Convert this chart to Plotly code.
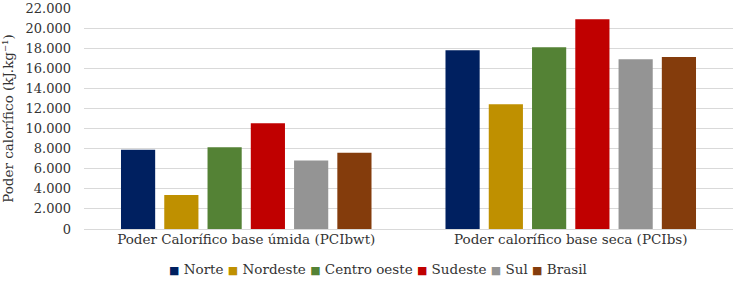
import plotly.graph_objects as go

categories = ["Poder Calorífico base úmida (PCIbwt)", "Poder calorífico base seca (PCIbs)"]
regions = ["Norte", "Nordeste", "Centro oeste", "Sudeste", "Sul", "Brasil"]
norte = [7880, 17800]
nordeste = [3390, 12430]
centro_oeste = [8130, 18090]
sudeste = [10530, 20870]
sul = [6830, 16910]
brasil = [7580, 17110]
colors = ["#002060", "#BF9000", "#548235", "#C00000", "#949494", "#843C0C"]
y_ticks = [0, 2000, 4000, 6000, 8000, 10000, 12000, 14000, 16000, 18000, 20000, 22000]

series = [norte, nordeste, centro_oeste, sudeste, sul, brasil]
font_family = "DejaVu Serif"
text_color = "#333333"

fig = go.Figure()
for name, vals, col in zip(regions, series, colors):
    fig.add_trace(go.Bar(x=categories, y=vals, name=name, marker=dict(color=col, line=dict(width=0))))

legend_text = " ".join(
    f"<span style='color:{c}; font-size:11px'>■</span>&nbsp;{n}" for n, c in zip(regions, colors)
)
fig.add_annotation(text=legend_text, xref="paper", yref="paper", x=0.453, y=-0.183,
                   xanchor="center", yanchor="middle", showarrow=False,
                   font=dict(family=font_family, size=13.5, color=text_color))

fig.update_layout(
    width=733, height=283,
    margin=dict(l=84, r=0, t=8, b=54),
    paper_bgcolor="white", plot_bgcolor="white",
    barmode="group", bargap=0.2, bargroupgap=0.21,
    separators=",.",
    font=dict(family=font_family, size=13, color=text_color),
    showlegend=False,
)
fig.update_xaxes(showgrid=False, showline=False, ticks="", automargin=False,
                 tickfont=dict(size=13.5, color=text_color))
fig.update_yaxes(range=[0, 22000], tickvals=y_ticks, tickformat=",d",
                 showgrid=True, gridcolor="#D9D9D9",
                 gridwidth=1, zeroline=True, zerolinecolor="#D9D9D9", zerolinewidth=1,
                 ticks="", ticklabelstandoff=12, automargin=False, ticklabeloverflow="allow",
                 title=dict(text="Poder calorífico (kJ.kg⁻¹)", font=dict(size=13.5, color=text_color), standoff=8),
                 tickfont=dict(size=13, color=text_color))

fig.write_html("out.html", config={"displayModeBar": False},
               post_script="document.body.style.margin='0';document.body.style.overflow='hidden';")
